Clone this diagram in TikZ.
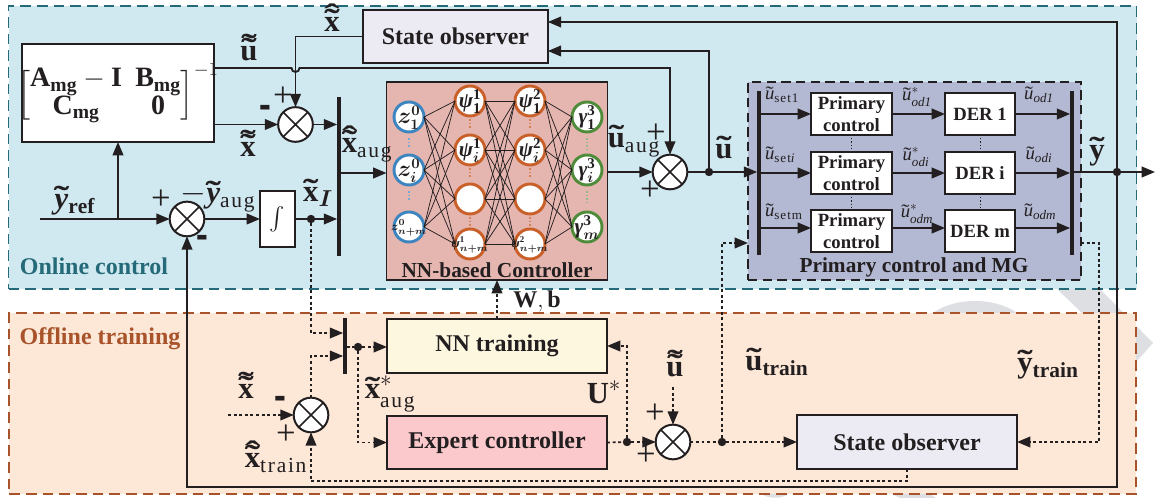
\documentclass[tikz,border=0pt]{standalone}
\usepackage{amsmath,bm}
\usepackage{fontspec}
\setmainfont{Liberation Serif}
\newfontfamily\lsfont[LetterSpace=8]{Liberation Serif}
\usetikzlibrary{arrows.meta,calc,shapes.misc}
\definecolor{onf}{HTML}{D0E9F1}\definecolor{ond}{HTML}{256A78}
\definecolor{off}{HTML}{FDE7D7}\definecolor{ofd}{HTML}{A8532A}
\definecolor{wm}{HTML}{DDDFE2}\definecolor{ink}{HTML}{231F20}
\definecolor{nnf}{HTML}{E5B5B0}\definecolor{mgf}{HTML}{B3B8D3}
\definecolor{obsf}{HTML}{ECEAF3}\definecolor{trf}{HTML}{FEF7E0}\definecolor{exf}{HTML}{FBC9CB}
\definecolor{blu}{HTML}{3D85C0}\definecolor{org}{HTML}{C9602A}\definecolor{grn}{HTML}{4E8C3A}
\newcommand\fs[1]{\fontsize{#1}{#1}\selectfont}
% accents built from the text font
\newcommand\tlgl{\scalebox{1.5}[1]{\bfseries\char"02DC}}
\newcommand\hatgl{\scalebox{1.5}[1]{\bfseries\char"02C6}}
\newcommand\tb[1]{\mathord{\text{\ooalign{\bfseries #1\cr\hidewidth\raisebox{.02em}{\tlgl}\hidewidth\cr}}}}
\newcommand\ttb[1]{\mathord{\text{\ooalign{\bfseries #1\cr\hidewidth\raisebox{.02em}{\tlgl}\hidewidth\cr\hidewidth\raisebox{.16em}{\tlgl}\hidewidth\cr}}}}
\newcommand\htb[1]{\mathord{\text{\ooalign{\bfseries #1\cr\hidewidth\raisebox{.02em}{\tlgl}\hidewidth\cr\hidewidth\raisebox{.17em}{\hatgl}\hidewidth\cr}}}}
\newcommand\tit{\mathord{\text{\ooalign{\itshape u\cr\hidewidth\raisebox{.02em}{\scalebox{1.3}[1]{\char"02DC}}\hidewidth\cr}}}}
\newcommand\ls[1]{\text{\lsfont #1}}
\newcommand\gk[1]{\text{\bfseries\itshape #1}}
\newcommand\us[2]{$\tit_{\ls{#1}\mathit{#2}}$}
\newcommand\ust[1]{$\tit^{*}_{\mathit{od#1}}$}
\newcommand\uo[1]{$\tit_{\mathit{od#1}}$}
\newcommand\thk{\scalebox{1.1}[1.7]{-}}
\newcommand\nc[1]{\raisebox{-.3em}[0pt][0pt]{\makebox[0pt]{#1}}}
\tikzset{
 every node/.style={text=ink,inner sep=0pt,outer sep=0pt},
 conn/.style={draw=ink,line width=1.4pt},
 arr/.style={conn,-{Triangle[length=10pt,width=8pt]}},
 dconn/.style={draw=ink,line width=1.25pt,dash pattern=on 2.2pt off 2pt},
 darr/.style={dconn,-{Triangle[length=10pt,width=8pt,sep=0pt]}},
 boxn/.style={draw=ink,line width=1.4pt,rectangle,align=center,font=\fs{18}\bfseries},
 prim/.style={boxn,fill=white,minimum width=60.75pt,minimum height=31.5pt,font=\fontsize{14}{16}\selectfont\bfseries,align=center},
 der/.style={boxn,fill=white,minimum width=52.5pt,minimum height=31.5pt,font=\fs{14}\bfseries},
 sumj/.style={circle,draw=ink,line width=1.5pt,fill=white,minimum size=26pt,
   path picture={\draw[ink,line width=1.2pt] (path picture bounding box.north west)--(path picture bounding box.south east)
   (path picture bounding box.north east)--(path picture bounding box.south west);}},
 barn/.style={rectangle,fill=ink,minimum width=2.8pt},
 dotn/.style={circle,fill=ink,minimum size=6.3pt},
 neu/.style={circle,fill=white,line width=2.2pt,minimum size=22.5pt,font=\fs{16}},
 smallneu/.style={neu,font=\fs{9.5}},
 lay/.style={draw=ink,line width=.55pt},
 vd/.style={line width=1.1pt,dash pattern=on 1.2pt off 1.6pt},
 vdk/.style={draw=ink,line width=.6pt,dash pattern=on .9pt off 1.6pt},
 lab/.style={font=\fs{23}},
 sm/.style={font=\fs{14}},
 sgn/.style={font=\fs{26}},
 bm/.style={font=\fs{24}\bfseries},
}
\begin{document}
\begin{tikzpicture}[x=.75pt,y=-.75pt]
\useasboundingbox (0,0) rectangle (1156,498);
% watermark
\fill[wm] (1057,289)--(1100,289)--(1153,343)--(1136,362)--(1082,313)--cycle;
\fill[wm] (933,313) .. controls (955,297) and (995,297) .. (1017,313) --cycle;
\fill[wm] (762,494) .. controls (768,499) and (782,499) .. (788,494)--cycle;
\fill[wm] (892,494)--(930,494)--(936,498)--(900,498)--cycle;
% regions
\node[rectangle,draw=ond,fill=onf,line width=1.3pt,dash pattern=on 8pt off 4.5pt,minimum width=846pt,minimum height=212.25pt] (online) at (572.5,147.5) {};
\node[rectangle,draw=ofd,fill=off,line width=1.3pt,dash pattern=on 8pt off 4.5pt,minimum width=845pt,minimum height=135.75pt] (offline) at (572.5,403.5) {};
\node[font=\fs{18}\bfseries,text=ond] (onl) at (94,266) {Online control};
\node[font=\fs{18}\bfseries,text=ofd] (ofl) at (100,339) {Offline training};
% main boxes
\node[boxn,fill=white,minimum width=144pt,minimum height=73.5pt] (mat) at (118,93) {};
\node[font=\fs{21}] (matt) at (118,93) {\renewcommand\arraystretch{.95}$\left[\begin{matrix}\mathbf{A_{mg}}-\mathbf{I} & \mathbf{B_{mg}}\\ \mathbf{C_{mg}} & \mathbf{0}\end{matrix}\right]^{-1}$};
\node[boxn,fill=obsf,minimum width=138.5pt,minimum height=39.5pt,font=\fs{18}\bfseries] (obs) at (455.5,36.5) {State observer};
\node[boxn,fill=white,minimum width=26.25pt,minimum height=42pt,font=\fs{16}] (int) at (277.5,219) {$\int$};
\node[sumj] (s1) at (295.5,124.5) {};
\node[sumj] (s2) at (187,219) {};
\node[sumj] (s3) at (670,172) {};
\node[sumj] (s4) at (311,415) {};
\node[sumj] (s5) at (673,442) {};
\node[barn,minimum height=119.5pt] (bar1) at (339,176.5) {};
\node[barn,minimum height=42pt] (bar4) at (345,346) {};
\node[dotn] (d1) at (311,219) {};
\node[dotn] (d2) at (709,172) {};
\node[dotn] (d3) at (1117,172) {};
\node[dotn] (d4) at (358,347) {};
\node[dotn] (d5) at (627,442) {};
\node[dotn] (d6) at (722,442) {};
% NN
\node[rectangle,draw=ink,fill=nnf,line width=1.3pt,minimum width=165.75pt,minimum height=148.5pt] (nn) at (497,181) {};
\node[font=\fs{16}\bfseries] (nnl) at (497,270) {NN-based Controller};
\node[neu,draw=blu] (za) at (409,117) {\nc{$\bm{z^{\mathbf 0}_{\mathbf 1}}$}};
\node[neu,draw=blu] (zb) at (409,170) {\nc{$\bm{z^{\mathbf 0}_{i}}$}};
\node[smallneu,draw=blu] (zc) at (409,227) {\nc{$\bm{z^{\mathbf 0}_{n+m}}$}};
\node[neu,draw=org] (pa1) at (470,101) {\nc{$\gk{ψ}^{\mathbf 1}_{\mathbf 1}$}};
\node[neu,draw=org] (pb1) at (470,150) {\nc{$\gk{ψ}^{\mathbf 1}_{\bm i}$}};
\node[neu,draw=org] (pc1) at (470,199) {};
\node[smallneu,draw=org] (pd1) at (470,244) {\nc{$\gk{ψ}^{\mathbf 1}_{\bm{n+m}}$}};
\node[neu,draw=org] (pa2) at (530,101) {\nc{$\gk{ψ}^{\mathbf 2}_{\mathbf 1}$}};
\node[neu,draw=org] (pb2) at (530,150) {\nc{$\gk{ψ}^{\mathbf 2}_{\bm i}$}};
\node[neu,draw=org] (pc2) at (530,199) {};
\node[smallneu,draw=org] (pd2) at (530,244) {\nc{$\gk{ψ}^{\mathbf 2}_{\bm{n+m}}$}};
\node[neu,draw=grn] (ga) at (587,117) {\nc{$\gk{γ}^{\mathbf 3}_{\mathbf 1}$}};
\node[neu,draw=grn] (gb) at (587,170) {\nc{$\gk{γ}^{\mathbf 3}_{\bm i}$}};
\node[neu,draw=grn] (gc) at (587,227) {\nc{$\gk{γ}^{\mathbf 3}_{\bm m}$}};
\foreach \z in {za,zb,zc}\foreach \p in {pa1,pb1,pc1,pd1}\draw[lay] (\z.east)--(\p.west);
\foreach \p in {pa1,pb1,pc1,pd1}\foreach \q in {pa2,pb2,pc2,pd2}\draw[lay] (\p.east)--(\q.west);
\foreach \q in {pa2,pb2,pc2,pd2}\foreach \g in {ga,gb,gc}\draw[lay] (\q.east)--(\g.west);
% dots between neurons
\draw[blu!70,vd] (za.south)++(0,6)--+(0,10) (zb.south)++(0,6)--+(0,10);
\foreach \x in {pa,pb,pc}\foreach \k in {1,2}\draw[org!80,vd] (\x\k.south)++(0,3)--+(0,11);
\draw[grn!60,vd] (ga.south)++(0,6)--+(0,12) (gb.south)++(0,6)--+(0,12);
% MG
\node[rectangle,draw=ink,fill=mgf,line width=1.2pt,dash pattern=on 7pt off 4pt,minimum width=249.75pt,minimum height=148.5pt] (mg) at (914.5,181) {};
\node[font=\fs{16}\bfseries] (mgl) at (914,267) {Primary control and MG};
\node[barn,minimum height=123pt] (bar2) at (759,173) {};
\node[barn,minimum height=123pt] (bar3) at (1072,173) {};
\node[prim] (p1) at (851.5,114) {Primary\\control};
\node[prim] (p2) at (851.5,173) {Primary\\control};
\node[prim] (p3) at (851.5,231) {Primary\\control};
\node[der] (e1) at (980,114) {DER 1};
\node[der] (e2) at (980,173) {DER i};
\node[der] (e3) at (980,231) {DER m};
\coordinate (r3) at (0,228);
\foreach \p/\e in {p1/e1,p2/e2}{
 \draw[arr] (\p.west-|bar2.east)--(\p.west);
 \draw[arr] (\p.east)--(\e.west);
 \draw[arr] (\e.east)--(\e.east-|bar3.west);
}
\draw[arr] (r3-|bar2.east)--(r3-|p3.west);
\draw[arr] (r3-|p3.east)--(r3-|e3.west);
\draw[arr] (r3-|e3.east)--(r3-|bar3.west);
\draw[vdk] (p1.south)++(0,3)--+(0,12) (e1.south)++(0,3)--+(0,12) (p2.south)++(0,3)--+(0,12) (e2.south)++(0,3)--+(0,12);
% lower boxes
\node[boxn,fill=trf,minimum width=165pt,minimum height=40.5pt,font=\fs{18}\bfseries] (tr) at (497,346) {NN training};
\node[boxn,fill=exf,minimum width=165pt,minimum height=39.75pt,font=\fs{18}\bfseries] (ex) at (497,442.5) {Expert controller};
\node[boxn,fill=obsf,minimum width=165pt,minimum height=40.5pt,font=\fs{18}\bfseries] (ob2) at (907,442) {State observer};
% solid connectors
\coordinate (yin) at (40,219);
\coordinate (tap) at (118,219);
\coordinate (hop) at (295.5,68);
\draw[conn] (yin)--(tap);
\draw[arr] (tap)--(s2.west);
\draw[arr] (tap)--(mat.south-|tap);
\draw[arr] (s2.east)--(int.west);
\draw[conn] (int.east)--(d1);
\draw[arr] (d1)--(d1-|bar1.west);
\draw[arr] (mat.east|-s1)--(s1.west);
\draw[arr] (s1.east)--(s1.east-|bar1.west);
\draw[arr] (bar1.east|-0,173)--(nn.west|-0,173);
\draw[arr] (nn.east|-s3)--(s3.west);
\draw[conn] (s3.east)--(d2);
\draw[arr] (d2)--(d2-|bar2.west);
\draw[conn] (bar3.east|-d3)--(d3);
\coordinate (yout) at (1155,172);
\draw[arr] (d3)--(yout);
\draw[conn] (mat.east|-hop)--($(hop)+(-4,0)$) arc[start angle=180,end angle=0,radius=4] -| (s3.north|-0,120);
\draw[arr] (s3.north|-0,120)--(s3.north);
\draw[conn] (obs.west)--(obs.west-|hop);
\draw[arr] (obs.west-|hop)--(s1.north);
\draw[arr] (d2)--(d2|-0,51)--(obs.east|-0,51);
\draw[arr] (d3)--(d3|-0,22)--(obs.east|-0,22);
\draw[arr] (d3)--(d3|-0,487)-|(s2.south);
% dotted connectors
\draw[darr] (d1)|-(bar4.west|-0,333);
\draw[darr] (s4.north)|-(bar4.west|-0,356);
\draw[dconn] (bar4.east|-d4)--(d4);
\draw[darr] (d4)--(tr.west|-d4);
\draw[darr] (d4)|-(ex.west);
\draw[darr] (tr.north)--(nn.south-|tr.north);
\coordinate (xin) at (228,415);
\draw[darr] (xin)--(s4.west);
\draw[darr] (ob2.south)|-(311,481)--(s4.south);
\draw[dconn] (ex.east)--(d5);
\draw[darr] (d5)|-(tr.east);
\draw[darr] (d5)--(s5.west);
\coordinate (uin) at (673,387);
\draw[darr] (uin)--(s5.north);
\draw[dconn] (s5.east)--(d6);
\draw[darr] (d6)--(ob2.west);
\draw[darr] (d6)|-(mg.west|-0,243);
\draw[darr] (mg.east|-0,243)-|(1099,442)--(ob2.east);
% labels
\node[lab] (l1) at (332,24) {$\htb{x}$};
\node[lab] (l2) at (249,53) {$\ttb{u}$};
\node[lab] (l3) at (248,149) {$\ttb{x}$};
\node[lab] (l4) at (367,150) {$\htb{x}_{\ls{aug}}$};
\node[lab] (l5) at (75,204) {$\tb{\textit{y}}_{\mathbf{ref}}$};
\node[lab] (l6) at (218,198) {$-\tb{\textit{y}}_{\ls{aug}}$};
\node[lab] (l7) at (318,197) {$\tb{x}_{\bm I}$};
\node[lab] (l8) at (634,145) {$\tb{u}_{\ls{aug}}$};
\node[lab] (l9) at (724,151) {$\tb{u}$};
\node[lab] (l10) at (1097,152) {$\tb{y}$};
\node[font=\fs{18}\bfseries] (l11) at (537,301) {$\mathbf{W,b}$};
\node[lab] (l12) at (777,366) {$\tb{u}_{\mathbf{train}}$};
\node[lab] (l13) at (1048,368) {$\tb{y}_{\mathbf{train}}$};
\node[lab] (l14) at (604,392) {$\mathbf{U}^{*}$};
\node[lab] (l15) at (390,394) {$\tb{x}^{*}_{\ls{aug}}$};
\node[lab] (l16) at (246,391) {$\ttb{x}$};
\node[lab] (l17) at (675,369) {$\ttb{u}$};
\node[lab] (l18) at (276,463) {$\htb{x}_{\ls{train}}$};
% signs
\node[sgn] (g1) at (283,97) {+};
\node[bm] (g2) at (265,113) {\thk};
\node[sgn] (g3) at (161,200) {+};
\node[bm] (g4) at (202,243) {\thk};
\node[sgn] (g5) at (656,134) {+};
\node[sgn] (g6) at (650,191) {+};
\node[bm] (g7) at (280,404) {\thk};
\node[sgn] (g8) at (286,435) {+};
\node[sgn] (g9) at (655,414) {+};
\node[sgn] (g10) at (646,456) {+};
% small MG labels
\node[sm,anchor=west] (u1) at (765,97) {\us{set1}{}};
\node[sm,anchor=west] (u2) at (765,157) {\us{set}{i}};
\node[sm,anchor=west] (u3) at (765,214) {\us{setm}{}};
\node[sm] (v1) at (917,97) {\ust{1}};
\node[sm] (v2) at (916,157) {\ust{i}};
\node[sm] (v3) at (917,214) {\ust{m}};
\node[sm] (w1) at (1039,97) {\uo{1}};
\node[sm] (w2) at (1039,157) {\uo{i}};
\node[sm] (w3) at (1040,214) {\uo{m}};
\end{tikzpicture}
\end{document}
